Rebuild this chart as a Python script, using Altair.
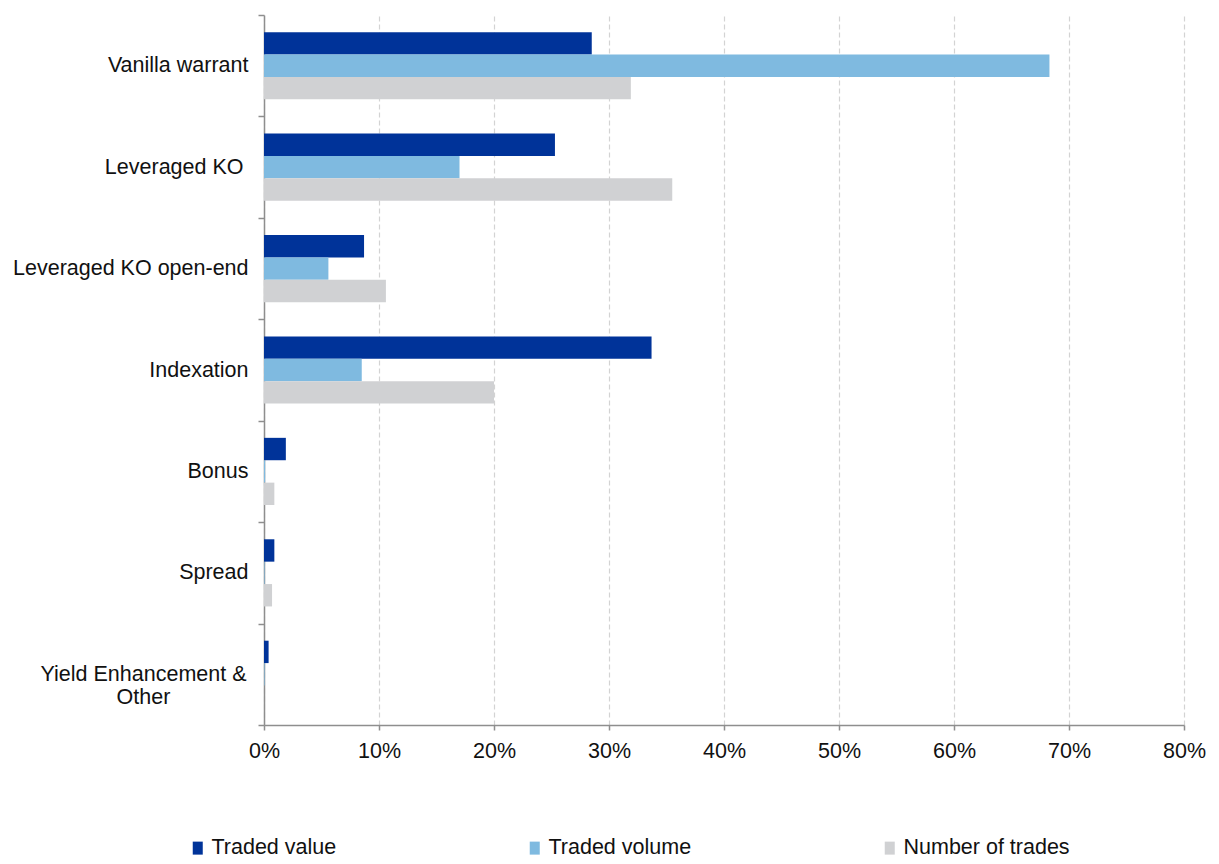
import altair as alt
import pandas as pd

categories = ["Vanilla warrant", "Leveraged KO", "Leveraged KO open-end", "Indexation",
              "Bonus", "Spread", "Yield Enhancement & Other"]
series = ["Traded value", "Traded volume", "Number of trades"]
traded_value = [28.5, 25.3, 8.7, 33.7, 1.9, 0.9, 0.4]
traded_volume = [68.3, 17.0, 5.6, 8.5, 0.1, 0.05, 0.05]
number_of_trades = [31.9, 35.5, 10.6, 20.0, 0.9, 0.7, 0.0]
colors = ["#003399", "#7FBAE0", "#D0D1D3"]
x_ticks = [0, 10, 20, 30, 40, 50, 60, 70, 80]

rows = []
for i, c in enumerate(categories):
    for s, vals in zip(series, [traded_value, traded_volume, number_of_trades]):
        rows.append({"category": c, "series": s, "pct": vals[i] / 100})
df = pd.DataFrame(rows)

FONT = "Liberation Sans"
FS = 21.5
YIELD = "datum.value == 'Yield Enhancement & Other'"
LKO = "datum.value == 'Leveraged KO'"
label_expr = ("datum.value == 'Yield Enhancement & Other' ? "
              "['Yield Enhancement &', 'Other'] : datum.value")

chart = alt.Chart(df).mark_bar().encode(
    y=alt.Y("category:N", sort=categories, title=None,
            scale=alt.Scale(paddingInner=0, paddingOuter=0),
            axis=alt.Axis(tickBand="extent", labelExpr=label_expr, labelFont=FONT,
                          labelFontSize=FS, labelColor="#111111",
                          labelPadding={"condition": [{"test": YIELD, "value": 115},
                                                      {"test": LKO, "value": 15}],
                                        "value": 10},
                          labelAlign={"condition": {"test": YIELD, "value": "center"},
                                      "value": "right"},
                          tickSize=6, tickColor="#8E8E8E", tickWidth=1.5,
                          domainColor="#8E8E8E", domainWidth=1.5, labelLineHeight=23,
                          grid=False, labelLimit=400)),
    yOffset=alt.YOffset("series:N", sort=series,
                        scale=alt.Scale(paddingInner=0, paddingOuter=0.765)),
    x=alt.X("pct:Q", title=None,
            scale=alt.Scale(domain=[0, 0.8], nice=False),
            axis=alt.Axis(values=[v / 100 for v in x_ticks], format=".0%", labelFont=FONT,
                          labelFontSize=FS, labelColor="#111111", labelPadding=10,
                          tickSize=5, tickColor="#8E8E8E", tickWidth=1.5,
                          domainColor="#8E8E8E", domainWidth=1.5,
                          grid=True, gridColor="#D3D3D3", gridDash=[5, 3], gridWidth=1.2,
                          labelFlush=False)),
    color=alt.Color("series:N", sort=series,
                    scale=alt.Scale(domain=series, range=colors),
                    legend=alt.Legend(title=None, orient="none", direction="horizontal",
                                      legendX=-77, legendY=822, padding=0,
                                      symbolType="M-0.77,-1H0.77V1H-0.77Z", symbolSize=169,
                                      symbolStrokeWidth=0, symbolOffset=0,
                                      labelFont=FONT, labelFontSize=FS, labelColor="#111111",
                                      labelOffset=3, columnPadding=187, labelLimit=400)),
).properties(width=920, height=710)

chart = chart.properties(
    padding={"left": 256, "top": 7, "right": 26, "bottom": 138},
    autosize=alt.AutoSizeParams(type="none"),
).configure_view(stroke=None)

chart.save("out.html", embed_options={"renderer": "svg", "actions": False})
